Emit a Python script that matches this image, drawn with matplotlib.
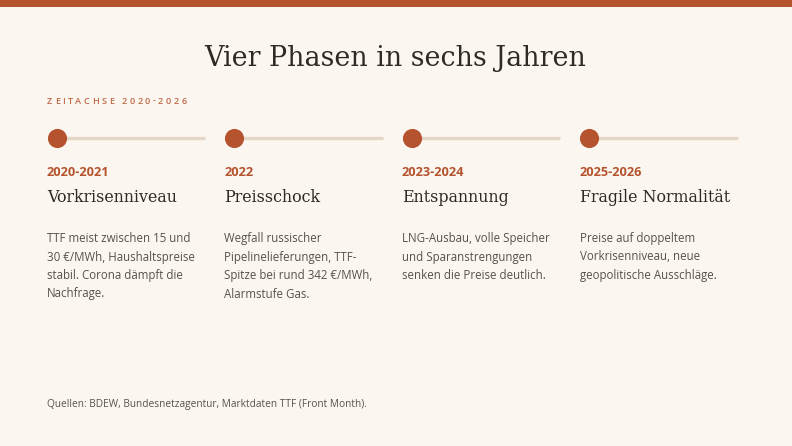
import matplotlib.pyplot as plt
from matplotlib.patches import Rectangle

# data
years = ['2020-2021', '2022', '2023-2024', '2025-2026']
phases = ['Vorkrisenniveau', 'Preisschock', 'Entspannung', 'Fragile Normalität']
descriptions = [
    'TTF meist zwischen 15 und\n30 €/MWh, Haushaltspreise\nstabil. Corona dämpft die\nNachfrage.',
    'Wegfall russischer\nPipelinelieferungen, TTF-\nSpitze bei rund 342 €/MWh,\nAlarmstufe Gas.',
    'LNG-Ausbau, volle Speicher\nund Sparanstrengungen\nsenken die Preise deutlich.',
    'Preise auf doppeltem\nVorkrisenniveau, neue\ngeopolitische Ausschläge.',
]
title = 'Vier Phasen in sechs Jahren'
kicker = 'ZEITACHSE 2020-2026'
source = 'Quellen: BDEW, Bundesnetzagentur, Marktdaten TTF (Front Month).'

BG = '#FBF7F0'
ACCENT = '#B5532E'
TRACK = '#E4D6C6'
DARK = '#2E2A26'
GREY = '#57514B'

W, H = 792, 446
fig = plt.figure(figsize=(W / 100, H / 100), dpi=100, facecolor=BG)
ax = fig.add_axes([0, 0, 1, 1])
ax.set_xlim(0, W)
ax.set_ylim(H, 0)
ax.axis('off')
ax.set_facecolor(BG)

ax.add_patch(Rectangle((0, 0), W, 7, color=ACCENT, lw=0))

ax.text(W / 2 - 1, 58, title, ha='center', va='center', fontsize=19.4,
        family='DejaVu Serif', color=DARK)

# letter-spaced kicker
fig.canvas.draw()
r = fig.canvas.get_renderer()
x = 47
inv = ax.transData.inverted()
for ch in kicker:
    t = ax.text(x, 101, ch, ha='left', va='center', fontsize=6.6,
                family='Open Sans', color='#C06A48', fontweight='semibold')
    bb = t.get_window_extent(r)
    w = inv.transform((bb.x1, 0))[0] - inv.transform((bb.x0, 0))[0]
    if ch == ' ':
        w = 2.5
    x += w + 2.5

x0 = 47
step = 177.5
col_w = 158
for i in range(len(years)):
    cx = x0 + i * step
    ax.plot([cx + 9, cx + col_w], [138, 138], color=TRACK, lw=2.4,
            solid_capstyle='butt', zorder=1)
    ax.scatter([cx + 9.5], [138], s=190, color=ACCENT, zorder=2, lw=0)
    ax.text(cx, 173, years[i], ha='left', va='center', fontsize=9.2,
            family='Open Sans', fontweight='bold', color=ACCENT)
    ax.text(cx, 197, phases[i], ha='left', va='center', fontsize=11.4,
            family='DejaVu Serif', color=DARK)
    ax.text(cx, 232, descriptions[i], ha='left', va='top', fontsize=8.3,
            family='Open Sans', color=GREY, linespacing=1.55)

ax.text(47, 405, source, ha='left', va='center', fontsize=7.3,
        family='Open Sans', color=GREY)

fig.savefig('out.png', dpi=100, facecolor=BG)
